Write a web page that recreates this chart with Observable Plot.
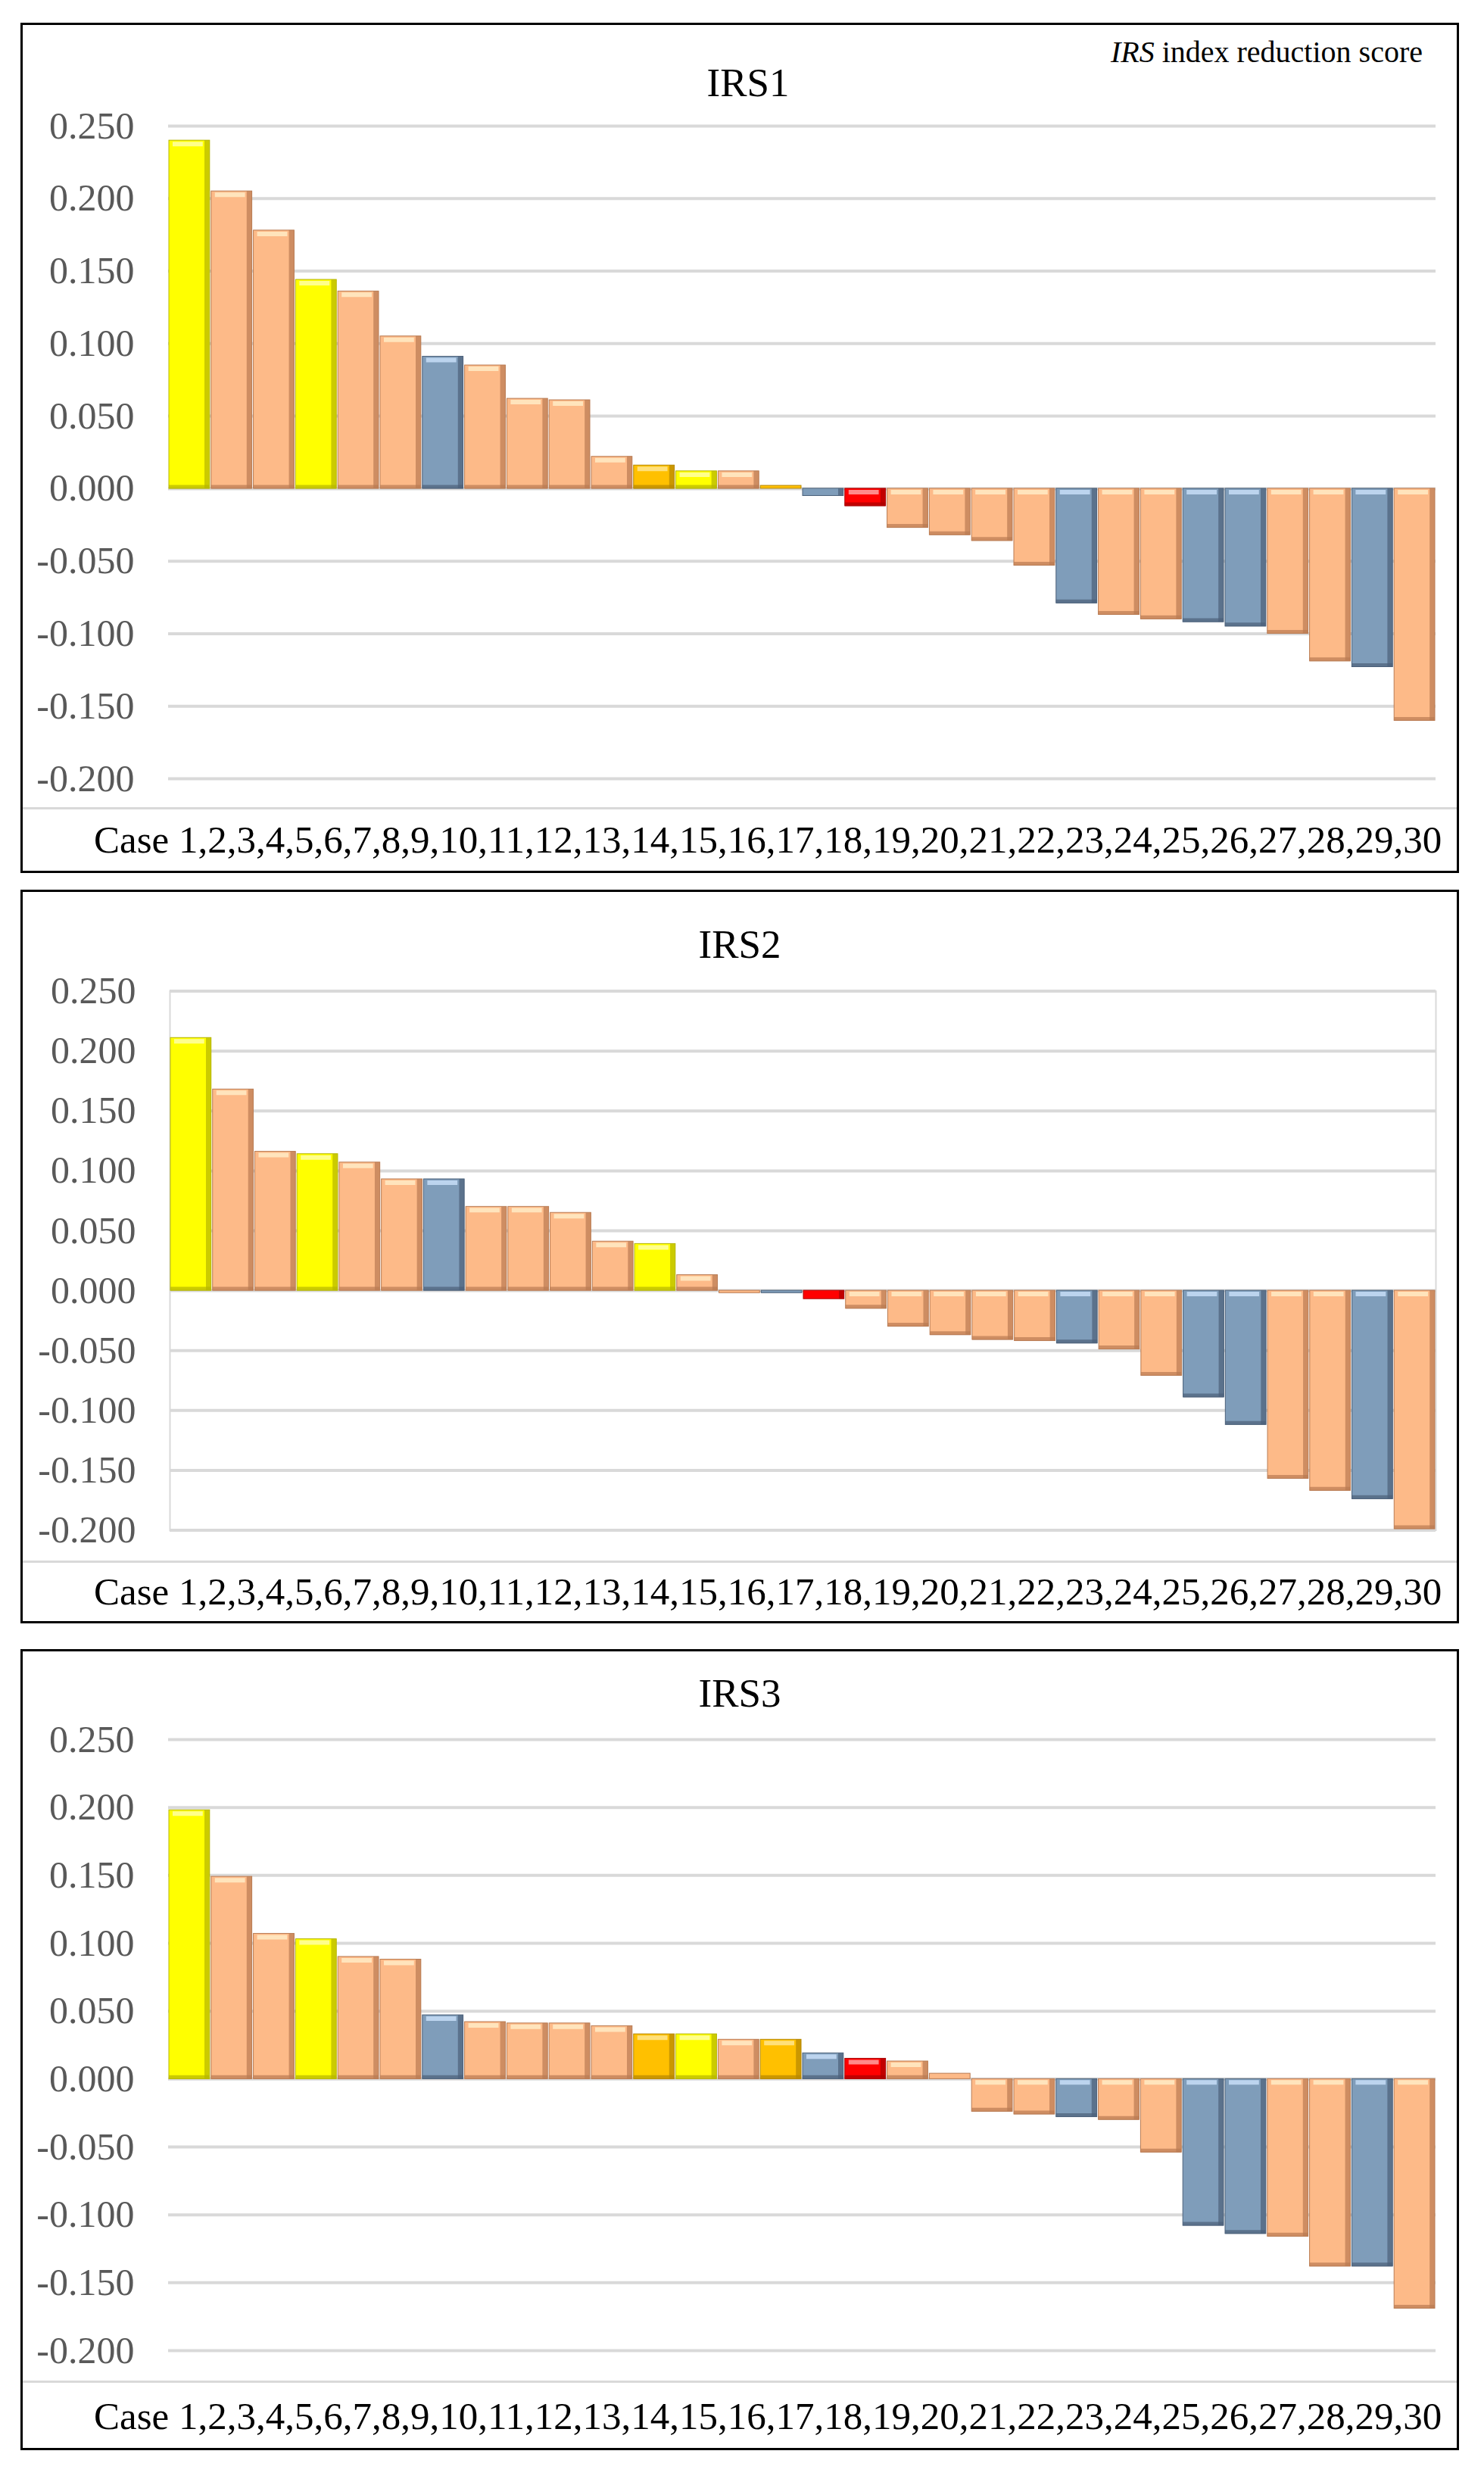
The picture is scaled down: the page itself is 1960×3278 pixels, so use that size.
<!DOCTYPE html>
<html lang="en">
<head>
<meta charset="UTF-8">
<title>IRS index reduction score</title>
<style>
  body { margin: 0; background: #fff; font-family: "Liberation Serif", "Times New Roman", serif; }
  #page { position: relative; width: 1960px; height: 3278px; }
  .frame { position: absolute; box-sizing: border-box; border: 3px solid #000; }
  .txt { position: absolute; white-space: nowrap; line-height: 1; color: #000; }
  .sep { position: absolute; height: 3px; background: #d9d9d9; }
</style>
<script src="https://cdn.jsdelivr.net/npm/d3@7"></script>
<script src="https://cdn.jsdelivr.net/npm/@observablehq/plot@0.6"></script>
</head>
<body>
<div id="page"></div>
<script>
// categories and tick values
const cases = [1, 2, 3, 4, 5, 6, 7, 8, 9, 10, 11, 12, 13, 14, 15,
               16, 17, 18, 19, 20, 21, 22, 23, 24, 25, 26, 27, 28, 29, 30];
const yTicks = [0.25, 0.2, 0.15, 0.1, 0.05, 0, -0.05, -0.1, -0.15, -0.2];

// IRS values, in bar order
const irs1 = [0.240, 0.205, 0.178, 0.144, 0.136, 0.105, 0.091, 0.085, 0.062, 0.061,
              0.022, 0.016, 0.012, 0.012, 0.002, -0.005, -0.012, -0.027, -0.032, -0.036,
              -0.053, -0.079, -0.087, -0.090, -0.092, -0.095, -0.100, -0.119, -0.123, -0.160];
const irs2 = [0.211, 0.168, 0.116, 0.114, 0.107, 0.093, 0.093, 0.070, 0.070, 0.065,
              0.041, 0.039, 0.013, -0.002, -0.002, -0.007, -0.015, -0.030, -0.037, -0.041,
              -0.042, -0.044, -0.049, -0.071, -0.089, -0.112, -0.157, -0.167, -0.174, -0.199];
const irs3 = [0.198, 0.149, 0.107, 0.103, 0.090, 0.088, 0.047, 0.042, 0.041, 0.041,
              0.039, 0.033, 0.033, 0.029, 0.029, 0.019, 0.015, 0.013, 0.004, -0.024,
              -0.026, -0.028, -0.030, -0.054, -0.108, -0.114, -0.116, -0.138, -0.138, -0.169];

// bar colour groups (Y yellow, O gold, P peach, B blue, R red)
const irs1Kind = ["Y","P","P","Y","P","P","B","P","P","P","P","O","Y","P","O",
                  "B","R","P","P","P","P","B","P","P","B","B","P","P","B","P"];
const irs2Kind = ["Y","P","P","Y","P","P","B","P","P","P","P","Y","P","P","B",
                  "R","P","P","P","P","P","B","P","P","B","B","P","P","B","P"];
const irs3Kind = ["Y","P","P","Y","P","P","B","P","P","P","P","O","Y","P","O",
                  "B","R","P","P","P","P","B","P","P","B","B","P","P","B","P"];

const palette = {
  Y: {fill: "#ffff00", shade: "#b5b500", light: "#ffff8c"},
  O: {fill: "#ffc000", shade: "#b58600", light: "#ffe07a"},
  P: {fill: "#fdba88", shade: "#b97b52", light: "#ffe4bc"},
  B: {fill: "#7f9dba", shade: "#4b6079", light: "#bcd4ee"},
  R: {fill: "#ff0000", shade: "#a80000", light: "#ff8a8a"}
};

const page = document.getElementById("page");

function addText(html, x, baseline, size, align, extra) {
  const d = document.createElement("div");
  d.className = "txt";
  d.innerHTML = html;
  d.style.fontSize = size + "px";
  d.style.top = (baseline - 0.8375 * size) + "px";
  if (align === "center") { d.style.left = (x - 400) + "px"; d.style.width = "800px"; d.style.textAlign = "center"; }
  else if (align === "right") { d.style.left = (x - 1000) + "px"; d.style.width = "1000px"; d.style.textAlign = "right"; }
  else d.style.left = x + "px";
  if (extra) Object.assign(d.style, extra);
  page.appendChild(d);
}

function drawPanel(p) {
  const frame = document.createElement("div");
  frame.className = "frame";
  Object.assign(frame.style, {left: "27px", top: p.frameTop + "px", width: "1900px", height: (p.frameBottom - p.frameTop) + "px"});
  page.appendChild(frame);

  const rows = cases.map((c, i) => ({c, v: p.values[i], k: p.kinds[i]}));
  const big = rows.filter(d => Math.abs(d.v) > 0.008);
  const mid = rows.filter(d => Math.abs(d.v) > 0.004);

  const chart = Plot.plot({
    width: 1960,
    height: p.y020 + 20 - p.frameTop,
    marginLeft: p.left,
    marginRight: 64,
    marginTop: p.y025 - p.frameTop,
    marginBottom: 20,
    x: {type: "band", domain: cases, padding: 0, round: false, axis: null},
    y: {domain: [-0.2, 0.25]},
    style: {fontFamily: "'Liberation Serif', 'Times New Roman', serif", fontSize: "50px", color: "#595959", background: "none", overflow: "visible"},
    marks: [
      Plot.gridY(yTicks, {stroke: "#d9d9d9", strokeOpacity: 1, strokeWidth: 4}),
      p.box ? Plot.frame({stroke: "#d9d9d9", strokeWidth: 2}) : null,
      Plot.barY(rows, {x: "c", y: "v", fill: d => palette[d.k].fill, stroke: d => palette[d.k].shade,
                       strokeWidth: 1, insetLeft: 1, insetRight: 1}),
      // bevel: darker right and bottom edge, lighter top strip
      Plot.barY(mid, {x: "c", y: "v", fill: d => palette[d.k].shade, fillOpacity: 0.7, insetLeft: 48, insetRight: 1}),
      Plot.tickY(big, {x: "c", y: d => Math.min(d.v, 0), dy: -2.5, stroke: d => palette[d.k].shade,
                       strokeOpacity: 0.7, strokeWidth: 5, insetLeft: 1, insetRight: 1}),
      Plot.tickY(big, {x: "c", y: d => Math.max(d.v, 0), dy: 4.5, stroke: d => palette[d.k].light,
                       strokeWidth: 6, insetLeft: 6, insetRight: 10}),
      Plot.axisY(yTicks, {tickSize: 0, tickPadding: 45, tickFormat: d => d.toFixed(3), fontSize: 50, label: null})
    ]
  });
  chart.style.position = "absolute";
  chart.style.left = "0px";
  chart.style.top = p.frameTop + "px";
  page.appendChild(chart);

  const sep = document.createElement("div");
  sep.className = "sep";
  Object.assign(sep.style, {left: "30px", width: "1894px", top: (p.sepY - 1.5) + "px"});
  page.appendChild(sep);

  addText(p.title, p.titleX, p.titleBase, 53, "center");
  addText("Case " + cases.join(","), 124, p.caseBase, 51, "left");
}

drawPanel({title: "IRS1", values: irs1, kinds: irs1Kind, frameTop: 30, frameBottom: 1153,
           y025: 166, y020: 1028, left: 222, sepY: 1067, titleX: 988, titleBase: 127, caseBase: 1127, box: false});
drawPanel({title: "IRS2", values: irs2, kinds: irs2Kind, frameTop: 1175, frameBottom: 2144,
           y025: 1308.6, y020: 2020.5, left: 224, sepY: 2062, titleX: 977, titleBase: 1265, caseBase: 2120, box: true});
drawPanel({title: "IRS3", values: irs3, kinds: irs3Kind, frameTop: 2178, frameBottom: 3236,
           y025: 2297, y020: 3104, left: 222, sepY: 3145, titleX: 977, titleBase: 2254, caseBase: 3209, box: false});

addText("<i>IRS</i> index reduction score", 1879, 82, 40, "right");
</script>
</body>
</html>
